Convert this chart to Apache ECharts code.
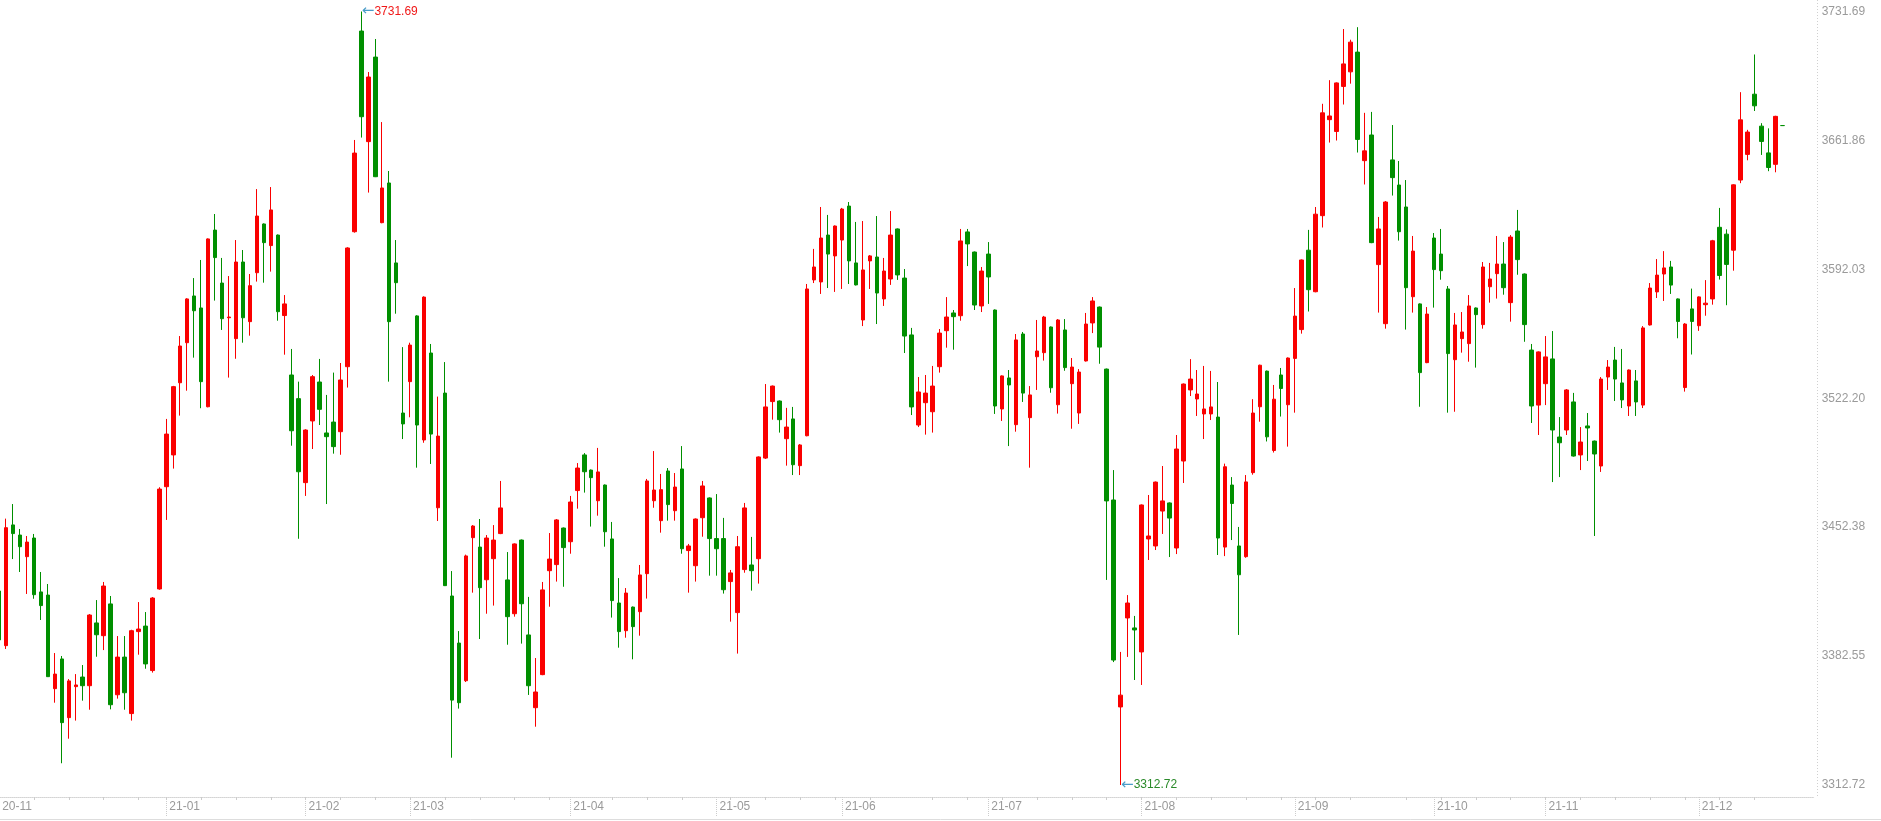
<!DOCTYPE html>
<html>
<head>
<meta charset="utf-8">
<title>K线</title>
<script src="https://cdn.jsdelivr.net/npm/echarts/dist/echarts.min.js"></script>
<style>
html,body{margin:0;padding:0;background:#fff;}
#main{width:1881px;height:821px;}
</style>
</head>
<body>
<div id="main"></div>
<script>
// 交易日（按月）
var monthKeys = ['2020-11','2020-12','2021-01','2021-02','2021-03','2021-04','2021-05','2021-06','2021-07','2021-08','2021-09','2021-10','2021-11','2021-12'];
var monthDays = [
	[30],
	[1,2,3,4,7,8,9,10,11,14,15,16,17,18,21,22,23,24,25,28,29,30,31],
	[4,5,6,7,8,11,12,13,14,15,18,19,20,21,22,25,26,27,28,29],
	[1,2,3,4,5,8,9,10,18,19,22,23,24,25,26],
	[1,2,3,4,5,8,9,10,11,12,15,16,17,18,19,22,23,24,25,26,29,30,31],
	[1,2,6,7,8,9,12,13,14,15,16,19,20,21,22,23,26,27,28,29,30],
	[6,7,10,11,12,13,14,17,18,19,20,21,24,25,26,27,28,31],
	[1,2,3,4,7,8,9,10,11,15,16,17,18,21,22,23,24,25,28,29,30],
	[1,2,5,6,7,8,9,12,13,14,15,16,19,20,21,22,23,26,27,28,29,30],
	[2,3,4,5,6,9,10,11,12,13,16,17,18,19,20,23,24,25,26,27,30,31],
	[1,2,3,6,7,8,9,10,13,14,15,16,17,22,23,24,27,28,29,30],
	[8,11,12,13,14,15,18,19,20,21,22,25,26,27,28,29],
	[1,2,3,4,5,8,9,10,11,12,15,16,17,18,19,22,23,24,25,26,29,30],
	[1,2,3,6,7,8,9,10,13,14,15,16,17]
];
// 右侧留白的空位
var futureDays = ['2021-12-20','2021-12-21','2021-12-22','2021-12-23'];

var openVals = [
3417.8,3388.2,3453.6,3448.1,3436.4,3446.5,3417.3,3415.6,3364.9,3381.0,
3349.2,3366.0,3371.2,3366.5,3400.5,3393.6,3410.8,3361.6,3382.0,3351.4,
3395.8,3398.8,3374.7,3418.9,3474.3,3491.5,3530.6,3552.3,3577.6,3571.1,
3517.6,3613.3,3584.6,3565.8,3554.5,3596.0,3563.7,3590.2,3616.6,3604.9,
3610.6,3567.0,3534.8,3522.0,3476.5,3509.9,3531.0,3503.4,3509.3,3504.1,
3539.3,3612.4,3721.1,3661.2,3707.0,3617.3,3638.8,3595.5,3514.2,3531.2,
3566.8,3499.6,3546.7,3462.9,3525.0,3415.1,3389.6,3369.2,3446.7,3441.6,
3423.9,3435.3,3448.9,3423.8,3405.5,3445.4,3394.0,3354.6,3372.5,3428.8,
3432.1,3451.9,3444.5,3472.2,3491.5,3483.3,3466.7,3475.2,3446.0,3411.3,
3396.3,3409.1,3406.6,3427.2,3466.7,3455.9,3482.8,3461.3,3483.9,3439.7,
3431.5,3457.5,3468.2,3446.2,3446.2,3422.9,3406.1,3429.4,3431.9,3435.3,
3489.8,3520.4,3520.7,3500.3,3511.0,3485.7,3501.9,3586.3,3585.2,3610.6,
3599.3,3607.9,3626.3,3595.5,3564.6,3596.6,3598.7,3576.0,3586.8,3613.9,
3587.3,3556.5,3507.7,3519.8,3514.9,3539.3,3558.8,3568.4,3566.9,3612.3,
3601.4,3572.2,3600.3,3570.0,3516.4,3533.2,3507.9,3557.0,3511.7,3544.7,
3546.9,3560.8,3518.7,3559.2,3530.1,3514.2,3542.4,3563.0,3571.6,3538.0,
3467.1,3355.0,3403.2,3397.8,3384.8,3446.0,3442.2,3461.1,3465.5,3441.1,
3488.2,3526.7,3521.8,3513.7,3513.7,3512.0,3441.6,3475.2,3442.2,3436.4,
3481.9,3517.6,3536.9,3493.9,3534.8,3518.7,3543.8,3559.4,3602.4,3579.9,
3621.1,3673.1,3666.7,3691.1,3699.0,3709.7,3650.9,3664.8,3594.6,3562.6,
3651.3,3637.7,3625.8,3577.2,3573.3,3541.5,3609.0,3600.3,3581.4,3543.1,
3554.5,3551.8,3571.1,3562.1,3582.6,3589.7,3594.9,3574.0,3612.8,3589.5,
3548.3,3518.5,3530.1,3543.5,3501.2,3505.0,3520.2,3491.5,3507.2,3499.0,
3485.5,3533.7,3542.9,3530.5,3518.0,3531.6,3518.5,3561.9,3579.8,3589.5,
3593.3,3576.0,3528.0,3570.6,3561.5,3572.9,3576.0,3614.8,3611.1,3602.4,
3640.4,3654.3,3686.9,3669.6,3655.1,3648.9,3669.9
];
var closeVals = [
3391.3,3452.1,3448.9,3441.8,3444.3,3415.8,3409.9,3371.4,3372.8,3346.5,
3369.1,3366.9,3366.5,3404.8,3394.1,3420.5,3356.2,3382.0,3362.7,3396.3,
3397.2,3378.3,3414.0,3473.0,3502.8,3528.5,3550.5,3576.0,3569.6,3531.2,
3608.5,3598.4,3565.3,3566.2,3596.0,3565.8,3583.2,3620.9,3606.5,3624.2,
3569.1,3573.3,3504.6,3482.4,3505.0,3533.9,3516.2,3501.4,3496.0,3532.1,
3603.6,3655.0,3674.7,3696.2,3642.2,3636.1,3563.7,3584.8,3508.3,3551.0,
3507.7,3577.0,3502.8,3501.7,3420.7,3358.7,3357.3,3436.8,3453.0,3419.6,
3446.5,3445.4,3462.8,3403.9,3443.3,3410.9,3366.5,3363.1,3418.4,3435.1,
3456.3,3441.3,3466.0,3484.4,3482.4,3479.2,3482.3,3449.9,3412.6,3395.8,
3416.7,3398.5,3426.5,3477.4,3472.5,3472.7,3464.6,3474.1,3440.7,3442.2,
3456.8,3474.7,3446.2,3440.7,3418.5,3427.6,3441.8,3462.8,3428.8,3490.4,
3517.5,3528.8,3510.6,3506.6,3486.2,3496.9,3581.4,3593.3,3609.0,3600.3,
3615.5,3624.7,3596.6,3583.6,3591.7,3599.3,3579.2,3591.1,3610.6,3589.0,
3555.9,3517.5,3525.6,3525.0,3528.8,3557.5,3566.2,3566.4,3607.4,3605.8,
3572.7,3591.1,3587.9,3518.0,3534.3,3529.4,3553.8,3525.0,3524.0,3547.8,
3566.2,3527.9,3564.6,3538.8,3539.1,3536.4,3562.4,3574.9,3549.9,3466.6,
3380.4,3361.4,3411.3,3396.7,3464.4,3447.6,3476.8,3466.6,3457.3,3494.7,
3529.9,3532.6,3524.5,3516.4,3517.5,3446.5,3485.1,3465.2,3426.6,3476.9,
3514.2,3540.1,3501.3,3521.7,3527.5,3544.0,3566.7,3597.1,3581.0,3621.9,
3676.8,3675.1,3693.0,3703.3,3715.1,3662.4,3656.2,3606.5,3613.9,3628.5,
3641.7,3612.4,3582.1,3601.9,3536.1,3567.8,3591.9,3591.3,3546.4,3561.9,
3558.1,3572.2,3567.5,3593.3,3586.8,3594.9,3582.1,3609.5,3597.3,3562.1,
3518.0,3547.3,3544.6,3505.0,3498.1,3526.7,3490.9,3498.5,3506.1,3492.0,
3532.6,3539.1,3532.6,3521.3,3537.5,3520.2,3560.3,3581.9,3588.9,3592.8,
3583.5,3563.8,3562.4,3563.8,3577.1,3573.7,3607.5,3588.7,3594.7,3637.8,
3673.0,3666.4,3680.6,3661.3,3647.2,3674.9,3669.9
];
var lowVals = [
3385.0,3386.4,3435.1,3428.1,3416.2,3413.6,3402.1,3371.4,3357.3,3324.5,
3337.8,3347.6,3358.4,3353.5,3382.2,3385.8,3353.7,3359.5,3353.5,3347.6,
3383.3,3375.7,3373.6,3418.5,3456.3,3484.1,3512.8,3526.3,3544.2,3516.8,
3517.3,3575.1,3559.2,3533.4,3543.6,3552.3,3556.1,3585.4,3584.8,3590.8,
3564.2,3545.8,3496.5,3446.1,3469.3,3494.7,3507.7,3464.9,3492.2,3491.6,
3528.0,3611.9,3663.4,3633.6,3642.0,3617.0,3531.2,3568.0,3500.1,3511.9,
3484.6,3498.1,3486.6,3455.7,3420.5,3327.5,3354.1,3368.5,3416.9,3391.8,
3405.5,3409.9,3448.6,3388.7,3403.9,3389.3,3361.5,3344.3,3372.2,3409.3,
3422.9,3420.1,3438.0,3462.4,3471.1,3452.7,3458.6,3441.8,3403.4,3387.1,
3392.5,3380.8,3393.6,3413.7,3462.9,3449.4,3455.9,3455.9,3438.0,3416.9,
3422.9,3447.2,3426.1,3426.1,3416.4,3401.2,3383.9,3427.7,3418.0,3421.8,
3489.3,3510.6,3503.6,3485.7,3480.6,3480.6,3501.6,3584.6,3578.7,3581.9,
3579.8,3581.4,3584.1,3583.3,3561.3,3581.4,3562.4,3572.2,3583.6,3586.3,
3546.7,3513.1,3506.6,3502.5,3503.6,3536.1,3549.6,3548.5,3564.2,3593.8,
3570.0,3568.9,3573.3,3513.7,3509.9,3496.3,3504.1,3520.2,3484.6,3526.7,
3542.6,3525.2,3513.9,3537.1,3505.7,3508.3,3542.1,3557.5,3540.9,3423.8,
3379.3,3312.72,3382.1,3369.6,3366.9,3434.6,3440.0,3448.7,3436.2,3437.8,
3476.3,3523.4,3512.6,3500.1,3510.4,3437.3,3436.7,3445.4,3394.0,3435.8,
3480.8,3509.5,3498.8,3492.8,3512.3,3496.0,3514.4,3557.2,3569.2,3579.6,
3614.7,3660.7,3661.8,3681.3,3692.6,3655.3,3638.0,3606.2,3568.6,3559.9,
3632.0,3607.6,3559.4,3568.6,3517.6,3541.2,3571.3,3586.4,3514.4,3514.9,
3546.9,3542.0,3538.8,3559.9,3574.0,3576.2,3578.3,3563.7,3589.1,3552.8,
3508.8,3502.3,3518.5,3476.8,3479.5,3502.3,3490.6,3483.3,3488.2,3447.6,
3482.3,3526.7,3520.7,3516.9,3512.6,3512.6,3516.9,3561.6,3576.5,3574.9,
3578.7,3554.7,3525.8,3545.9,3558.7,3566.9,3572.9,3586.5,3572.6,3591.3,
3638.7,3651.1,3677.8,3654.0,3645.2,3644.6,3669.9
];
var highVals = [
3425.0,3457.0,3464.9,3451.4,3447.6,3448.7,3428.1,3421.6,3384.2,3382.6,
3370.1,3372.8,3377.7,3405.3,3412.9,3422.7,3415.1,3393.4,3393.4,3396.8,
3411.8,3406.4,3414.5,3474.0,3511.0,3528.9,3555.9,3576.4,3587.3,3597.1,
3608.8,3622.0,3598.2,3588.4,3607.9,3602.5,3589.5,3635.5,3616.9,3636.6,
3610.9,3578.1,3548.9,3531.2,3505.4,3534.8,3543.5,3524.0,3536.1,3541.3,
3604.0,3662.1,3731.69,3698.9,3716.8,3671.8,3645.3,3607.9,3549.9,3552.3,
3567.2,3577.4,3551.6,3523.1,3541.8,3428.6,3396.1,3437.5,3453.5,3456.8,
3448.1,3453.5,3477.4,3438.9,3443.6,3445.7,3414.6,3381.5,3422.7,3449.2,
3456.8,3452.2,3469.3,3487.1,3492.5,3483.6,3495.3,3475.5,3455.2,3424.8,
3419.4,3409.4,3431.9,3478.5,3493.6,3481.2,3484.4,3481.7,3496.3,3443.3,
3457.1,3477.4,3468.5,3470.3,3457.4,3429.2,3447.6,3465.5,3447.1,3490.7,
3529.9,3529.1,3521.0,3517.0,3517.5,3497.4,3584.1,3603.1,3625.8,3621.5,
3615.8,3625.3,3628.5,3617.7,3618.2,3599.8,3620.9,3598.2,3623.6,3614.2,
3592.2,3560.3,3533.7,3534.8,3539.7,3559.7,3577.0,3570.0,3613.9,3613.9,
3601.7,3593.3,3606.8,3570.3,3534.6,3537.5,3557.0,3558.1,3528.8,3564.6,
3566.8,3561.1,3565.1,3565.1,3544.0,3538.0,3568.4,3577.0,3571.9,3538.3,
3483.3,3384.8,3415.6,3404.3,3464.7,3469.8,3477.1,3485.5,3465.8,3502.3,
3530.2,3543.4,3537.5,3539.7,3537.0,3531.0,3486.8,3479.5,3452.5,3480.6,
3521.7,3540.4,3537.2,3529.4,3538.6,3544.3,3581.9,3597.4,3613.4,3625.8,
3681.7,3694.5,3693.3,3722.2,3716.4,3723.2,3676.8,3677.3,3620.4,3629.0,
3670.2,3650.7,3640.4,3610.1,3573.6,3571.6,3611.7,3613.9,3583.0,3568.4,
3568.9,3578.1,3571.4,3596.0,3595.5,3610.1,3606.8,3610.6,3624.2,3589.8,
3551.6,3547.6,3555.9,3558.6,3512.0,3527.2,3525.1,3506.6,3514.2,3499.3,
3533.7,3542.9,3550.0,3548.9,3537.8,3537.5,3561.3,3584.6,3597.6,3601.9,
3596.6,3576.3,3562.9,3581.6,3577.4,3586.2,3608.0,3625.3,3613.7,3638.1,
3688.0,3667.6,3708.4,3671.2,3668.4,3675.2,3669.9
];
// 右轴刻度
var yTickLabels = ['3312.72','3382.55','3452.38','3522.20','3592.03','3661.86','3731.69'];

var upColor = '#fa0000';
var downColor = '#008f00';

var myChart = echarts.init(document.getElementById('main'));

function pad2(n){ return n < 10 ? '0' + n : '' + n; }

var dates = [];
var monthStart = {};
var isMonday = {};
for (var m = 0; m < monthKeys.length; m++) {
	for (var d = 0; d < monthDays[m].length; d++) {
		if (d == 0) monthStart[dates.length] = true;
		var parts = monthKeys[m].split('-');
		var dt = new Date(+parts[0], +parts[1] - 1, monthDays[m][d]);
		if (dt.getDay() == 1) isMonday[dates.length] = true;
		dates.push(monthKeys[m] + '-' + pad2(monthDays[m][d]));
	}
}
var nData = dates.length;
var categories = dates.concat(futureDays);

var kData = [];
for (var i = 0; i < openVals.length; i++) {
	kData.push([openVals[i], closeVals[i], lowVals[i], highVals[i]]);
}

var yMin = parseFloat(yTickLabels[0]);
var yMax = parseFloat(yTickLabels[yTickLabels.length - 1]);

// 最高、最低点
var hiIdx = 0, loIdx = 0;
for (var j = 0; j < nData; j++) {
	if (highVals[j] > highVals[hiIdx]) hiIdx = j;
	if (lowVals[j] < lowVals[loIdx]) loIdx = j;
}

function showMonth(idx){ return idx < nData && monthStart[idx] === true && idx != 1; }
function showWeek(idx){ return idx < nData && isMonday[idx] === true; }

var labelFont = 'Liberation Sans';

option = {
	animation : false,
	backgroundColor : '#fff',
	grid : {
		left : -4.35,
		right : 67.3,
		top : 11.5,
		bottom : 36,
		outerBoundsMode : 'none',
		containLabel : false
	},
	xAxis : [ {
		type : 'category',
		data : categories,
		boundaryGap : true,
		offset : 12,
		axisLine : { show : true, lineStyle : { color : '#d4d4d4', type : 'dotted' } },
		axisTick : { show : true, alignWithLabel : true, length : 3, interval : showWeek, lineStyle : { color : '#cccccc' } },
		axisLabel : { show : false },
		splitLine : { show : false }
	}, {
		type : 'category',
		data : categories,
		boundaryGap : true,
		position : 'bottom',
		offset : 12,
		axisLine : { show : false },
		axisTick : { show : true, alignWithLabel : true, length : 20, interval : showMonth, lineStyle : { color : '#cccccc', type : 'dotted' } },
		axisLabel : {
			show : true,
			interval : showMonth,
			align : 'left',
			padding : [0, 0, 0, 3],
			margin : 4,
			color : '#9a9a9a',
			fontSize : 12,
			fontFamily : labelFont,
			formatter : function(v){ return v.slice(2, 7); }
		},
		splitLine : { show : false }
	} ],
	yAxis : [ {
		type : 'value',
		position : 'right',
		scale : true,
		min : yMin,
		max : yMax,
		interval : (yMax - yMin) / (yTickLabels.length - 1),
		axisLine : { show : false },
		axisTick : { show : false },
		splitLine : { show : false },
		axisLabel : {
			margin : 8,
			color : '#9a9a9a',
			fontSize : 12,
			fontFamily : labelFont,
			formatter : function(v){
				var best = yTickLabels[0];
				for (var k = 0; k < yTickLabels.length; k++) {
					if (Math.abs(parseFloat(yTickLabels[k]) - v) < Math.abs(parseFloat(best) - v)) best = yTickLabels[k];
				}
				return best;
			}
		}
	} ],
	graphic : [ {
		type : 'line',
		shape : { x1 : 1817.5, y1 : 0, x2 : 1817.5, y2 : 797 },
		style : { stroke : '#d0d0d0', lineWidth : 1, lineDash : [1, 2] },
		silent : true
	}, {
		type : 'line',
		shape : { x1 : 0, y1 : 819.5, x2 : 1881, y2 : 819.5 },
		style : { stroke : '#dddddd', lineWidth : 1 },
		silent : true
	} ],
	series : [ {
		name : '上证指数',
		type : 'candlestick',
		xAxisIndex : 0,
		data : kData,
		barWidth : 4,
		itemStyle : {
			color : upColor,
			color0 : downColor,
			borderColor : upColor,
			borderColor0 : downColor,
			borderWidth : 1
		},
		markPoint : {
			symbol : 'rect',
			symbolSize : 1,
			itemStyle : { color : 'rgba(0,0,0,0)' },
			label : { show : true, position : 'right', distance : 0 },
			data : [ {
				coord : [hiIdx, highVals[hiIdx]],
				value : highVals[hiIdx],
				label : {
					formatter : function(p){ return '{a|←}{b|' + p.value.toFixed(2) + '}'; },
					rich : {
						a : { color : '#4a9cc8', fontSize : 15, fontFamily : 'DejaVu Sans', lineHeight : 16, verticalAlign : 'middle' },
						b : { color : '#f01818', fontSize : 12, fontFamily : labelFont, lineHeight : 16, verticalAlign : 'middle' }
					}
				}
			}, {
				coord : [loIdx, lowVals[loIdx]],
				value : lowVals[loIdx],
				label : {
					formatter : function(p){ return '{a|←}{b|' + p.value.toFixed(2) + '}'; },
					rich : {
						a : { color : '#4a9cc8', fontSize : 15, fontFamily : 'DejaVu Sans', lineHeight : 16, verticalAlign : 'middle' },
						b : { color : '#2a8a2a', fontSize : 12, fontFamily : labelFont, lineHeight : 16, verticalAlign : 'middle' }
					}
				}
			} ]
		}
	} ]
};
myChart.setOption(option);
</script>
</body>
</html>
